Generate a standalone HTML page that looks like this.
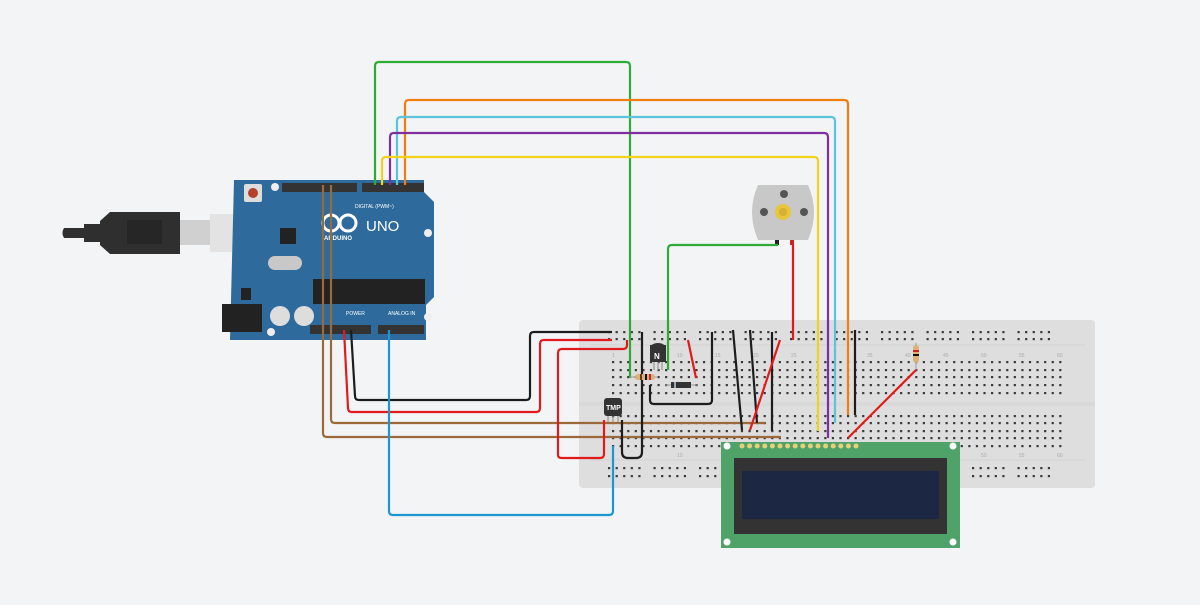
<!DOCTYPE html>
<html><head><meta charset="utf-8"><style>
html,body{margin:0;padding:0;background:#f3f4f6;}
svg{display:block;font-family:"Liberation Sans",sans-serif;}
</style></head><body>
<svg id="s" width="1200" height="605" viewBox="0 0 1200 605" xmlns="http://www.w3.org/2000/svg">
<rect width="1200" height="605" fill="#f3f4f6"/>
<rect x="579" y="320" width="516" height="168" rx="4" fill="#dedede"/>
<line x1="590" y1="345" x2="1085" y2="345" stroke="#d2d2d2"/>
<line x1="590" y1="460" x2="1085" y2="460" stroke="#d2d2d2"/>
<rect x="579" y="402" width="516" height="4" fill="#d9d9d9"/>
<g id="holes" fill="#3a3a3a"></g>
<g font-size="5" fill="#aaa">
<text x="612" y="357">1</text><text x="677" y="357">10</text><text x="715" y="357">15</text><text x="753" y="357">20</text><text x="791" y="357">25</text><text x="867" y="357">35</text><text x="905" y="357">40</text><text x="943" y="357">45</text><text x="981" y="357">50</text><text x="1019" y="357">55</text><text x="1057" y="357">60</text>
<text x="677" y="457">10</text><text x="981" y="457">50</text><text x="1019" y="457">55</text><text x="1057" y="457">60</text>
</g>
<rect x="170" y="220" width="50" height="25" fill="#d0d0d0"/>
<path d="M64 228 h20 v-4 h16 v-3 l10 -9 h70 v42 h-70 l-10 -9 v-3 h-16 v-4 h-20 a9 9 0 0 1 0 -10z" fill="#2f2f2f"/>
<rect x="127" y="220" width="35" height="24" fill="#262626"/>
<rect x="210" y="214" width="52" height="38" fill="#e3e3e3"/>
<path d="M234 180 h190 v12 l10 10 v95 l-8 8 v35 h-196z" fill="#2e6b9c"/>
<rect x="244" y="184" width="18" height="18" rx="2" fill="#ddd"/><circle cx="253" cy="193" r="5" fill="#b3412b"/>
<circle cx="275" cy="187" r="4" fill="#eee"/><circle cx="428" cy="233" r="4" fill="#eee"/><circle cx="428" cy="317" r="4" fill="#eee"/><circle cx="271" cy="332" r="4" fill="#eee"/>
<rect x="282" y="183" width="75" height="9" fill="#333"/><rect x="362" y="183" width="62" height="9" fill="#333"/>
<rect x="310" y="325" width="61" height="9" fill="#333"/><rect x="378" y="325" width="46" height="9" fill="#333"/>
<rect x="313" y="279" width="112" height="25" fill="#222"/>
<rect x="280" y="228" width="16" height="16" fill="#222"/>
<rect x="268" y="256" width="34" height="14" rx="7" fill="#c8c8c8"/>
<rect x="222" y="304" width="40" height="28" fill="#222"/>
<circle cx="280" cy="316" r="10" fill="#ddd"/><circle cx="304" cy="316" r="10" fill="#ddd"/>
<rect x="241" y="288" width="10" height="12" fill="#222"/>
<text x="366" y="231" font-size="15" fill="#fff">UNO</text>
<circle cx="331" cy="223" r="8" fill="none" stroke="#fff" stroke-width="3"/><circle cx="348" cy="223" r="8" fill="none" stroke="#fff" stroke-width="3"/>
<text x="324" y="240" font-size="6" fill="#fff" font-weight="bold">ARDUINO</text>
<text x="355" y="208" font-size="5" fill="#fff">DIGITAL (PWM~)</text>
<text x="346" y="315" font-size="5" fill="#fff">POWER</text><text x="388" y="315" font-size="5" fill="#fff">ANALOG IN</text>
<path d="M758 185 h50 q12 27 0 55 h-50 q-12 -28 0 -55z" fill="#c8c8c8"/>
<circle cx="784" cy="194" r="4" fill="#555"/><circle cx="764" cy="212" r="4" fill="#555"/><circle cx="804" cy="212" r="4" fill="#555"/>
<circle cx="783" cy="212" r="8" fill="#e8c53a"/><circle cx="783" cy="212" r="4" fill="#d6b030"/>
<rect x="775" y="240" width="4" height="5" fill="#222"/><rect x="790" y="240" width="4" height="5" fill="#c22"/>
<g fill="none" stroke-width="2.2" stroke-linejoin="round">
<path d="M375 185 V66 q0 -4 4 -4 H626 q4 0 4 4 V378" stroke="#2eaa36"/>
<path d="M405 185 V104 q0 -4 4 -4 H844 q4 0 4 4 V415" stroke="#f07e12"/>
<path d="M397 185 V121 q0 -4 4 -4 H831 q4 0 4 4 V423" stroke="#5ac4dc"/>
<path d="M390 185 V137 q0 -4 4 -4 H824 q4 0 4 4 V438" stroke="#7d2fa0"/>
<path d="M382 185 V161 q0 -4 4 -4 H814 q4 0 4 4 V431" stroke="#f2d31b"/>
<path d="M778 245 H672 q-4 0 -4 4 V370" stroke="#2eaa36"/>
<path d="M323 185 V433 q0 4 4 4 H781" stroke="#9a6a3a"/>
<path d="M331 185 V419 q0 4 4 4 H765" stroke="#9a6a3a"/>
<path d="M344 330 L348 408 q0 4 4 4 H536 q4 0 4 -4 V344 q0 -4 4 -4 H612" stroke="#e11b1b"/>
<path d="M351 330 L355 396 q0 4 4 4 H526 q4 0 4 -4 V336 q0 -4 4 -4 H612" stroke="#1d1d1d"/>
<path d="M627 340 V345 q0 4 -4 4 H562 q-4 0 -4 4 V455 q0 3 4 3 H600 q4 0 4 -4 V420" stroke="#e11b1b"/>
<path d="M389 330 V511 q0 4 4 4 H609 q4 0 4 -4 V446" stroke="#1a96d0"/>
<path d="M622 420 V452 q0 6 6 6 H636 q6 0 6 -6 V332" stroke="#1d1d1d"/>
<path d="M650 385 V400 q0 4 4 4 H708 q4 0 4 -4 V332" stroke="#1d1d1d"/>
<path d="M733 330 L742 430 M750 330 L757 423 M772 332 V431 M855 330 V415" stroke="#1d1d1d"/>
<path d="M688 340 L696 378 M780 340 L750 430 M793 245 V340 M916 370 L848 438" stroke="#e11b1b"/>
</g>
<path d="M650 345 h16 v17 h-16z" fill="#333"/><path d="M650 348 a8 5 0 0 1 16 0z" fill="#333"/><text x="654" y="359" font-size="8" fill="#fff" font-weight="bold">N</text>
<path d="M654 362 v8 M658 362 v8 M662 362 v8" stroke="#888"/>
<rect x="604" y="398" width="18" height="18" rx="3" fill="#333"/><text x="606" y="410" font-size="7" fill="#fff" font-weight="bold">TMP</text>
<path d="M608 416 v6 M613 416 v6 M618 416 v6" stroke="#888"/>
<line x1="630" y1="377" x2="658" y2="377" stroke="#999"/><rect x="635" y="374" width="20" height="6" rx="3" fill="#d8b27a"/>
<rect x="640" y="374" width="2" height="6" fill="#6a3a1a"/><rect x="645" y="374" width="2" height="6" fill="#111"/><rect x="649" y="374" width="2" height="6" fill="#c22"/>
<line x1="665" y1="385" x2="697" y2="385" stroke="#999"/><rect x="671" y="382" width="20" height="6" fill="#333"/><rect x="674" y="382" width="2" height="6" fill="#9ab"/>
<line x1="916" y1="343" x2="916" y2="370" stroke="#999"/><rect x="913" y="345" width="6" height="18" rx="3" fill="#d8b27a"/><rect x="913" y="350" width="6" height="2" fill="#c22"/><rect x="913" y="354" width="6" height="2" fill="#111"/>
<rect x="721" y="442" width="239" height="106" fill="#4fa369"/>
<circle cx="727" cy="446" r="3.5" fill="#fff"/><circle cx="953" cy="446" r="3.5" fill="#fff"/><circle cx="727" cy="542" r="3.5" fill="#fff"/><circle cx="953" cy="542" r="3.5" fill="#fff"/>
<rect x="734" y="458" width="213" height="76" fill="#333"/>
<rect x="742" y="471" width="197" height="48" fill="#1c2744"/>
<g id="lcdpins" fill="#e8d07a"></g>
</svg>
<script>
var ns="http://www.w3.org/2000/svg",h=document.getElementById("holes");
function d(x,y){var c=document.createElementNS(ns,"rect");c.setAttribute("x",x-1);c.setAttribute("y",y-1);c.setAttribute("width",2.2);c.setAttribute("height",2.2);h.appendChild(c);}
var x0=613,dx=7.58;
for(var c=0;c<60;c++){var x=x0+c*dx;[362,370,377,385,393,416,423,431,438,446].forEach(function(y){d(x,y);});}
for(var g=0;g<10;g++)for(var k=0;k<5;k++){var x=x0-4+g*45.5+k*7.58;[332,339,468,476].forEach(function(y){d(x,y);});}
var p=document.getElementById("lcdpins");
for(var i=0;i<16;i++){var c=document.createElementNS(ns,"circle");c.setAttribute("cx",742+i*7.6);c.setAttribute("cy",446);c.setAttribute("r",2.5);p.appendChild(c);}
</script>
</body></html>
